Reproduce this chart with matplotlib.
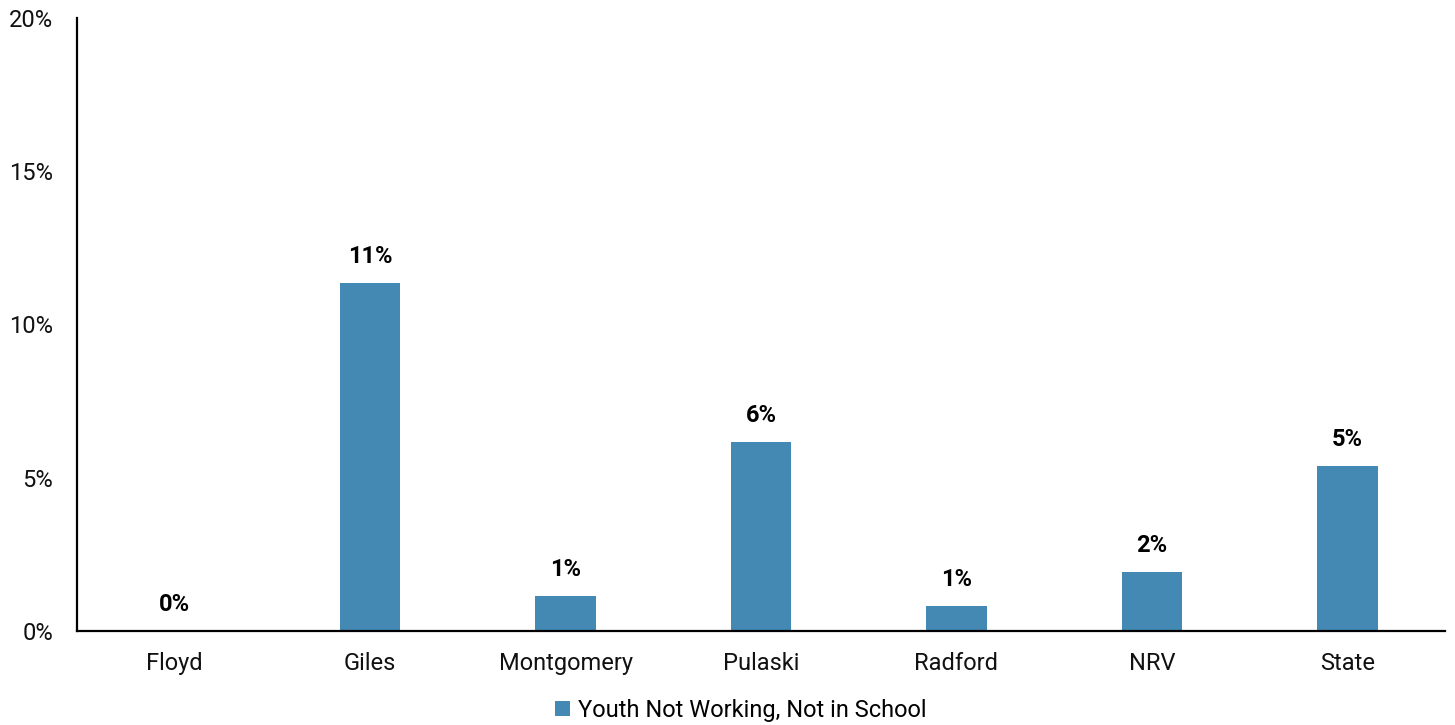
import matplotlib.pyplot as plt
from matplotlib.ticker import FuncFormatter

plt.rcParams['font.family'] = ['Roboto', 'DejaVu Sans']

counties = ['Floyd', 'Giles', 'Montgomery', 'Pulaski', 'Radford', 'NRV', 'State']
values = [0.0, 11.35, 1.14, 6.17, 0.82, 1.93, 5.38]
labels = ['0%', '11%', '1%', '6%', '1%', '2%', '5%']
series = 'Youth Not Working, Not in School'
color = '#4389b4'

fig = plt.figure(figsize=(14.55, 7.25), dpi=100)
ax = fig.add_axes([0.0529, 0.1297, 0.9402, 0.8455])

x = range(len(counties))
bars = ax.bar(x, values, width=0.31, color=color, label=series)
for b, lab in zip(bars, labels):
    ax.annotate(lab, (b.get_x() + b.get_width() / 2, b.get_height()),
                xytext=(0, 11), textcoords='offset points',
                ha='center', va='bottom', fontsize=17, fontweight='bold')

ax.set_xlim(-0.5, len(counties) - 0.5)
ax.set_ylim(0, 20)
ax.set_yticks([0, 5, 10, 15, 20])
ax.yaxis.set_major_formatter(FuncFormatter(lambda v, p: f'{v:.0f}%'))
ax.set_xticks(list(x))
ax.set_xticklabels(counties)
ax.tick_params(axis='both', length=0, labelsize=17, colors='#111111')
ax.tick_params(axis='y', pad=17)
ax.tick_params(axis='x', pad=15)
for s in ['top', 'right']:
    ax.spines[s].set_visible(False)
for s in ['left', 'bottom']:
    ax.spines[s].set_linewidth(1.6)

fig.legend(loc='lower center', bbox_to_anchor=(0.509, -0.025), frameon=False,
           fontsize=17, handlelength=0.65, handleheight=0.65, handletextpad=0.3)

fig.savefig('out.png', dpi=100)
